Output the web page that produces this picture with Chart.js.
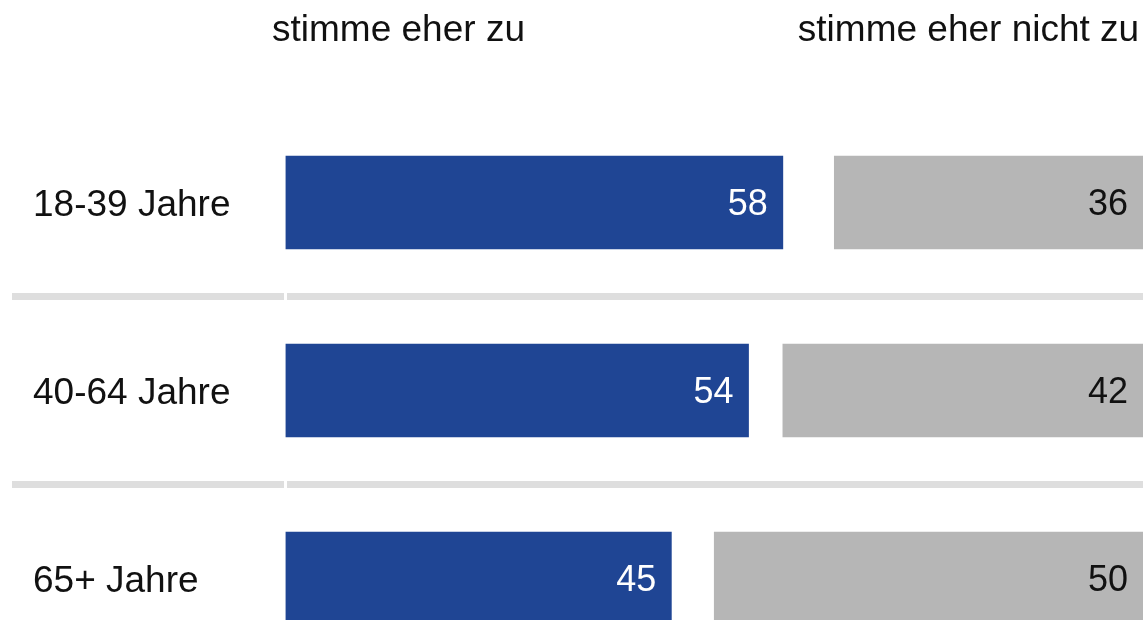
<!DOCTYPE html>
<html>
<head>
<meta charset="utf-8">
<script src="https://cdn.jsdelivr.net/npm/chart.js@4/dist/chart.umd.min.js"></script>
<style>
    html, body { margin: 0; padding: 0; background: #fff; overflow: hidden; }
    #wrap { width: 1143px; height: 620px; overflow: hidden; }
</style>
</head>
<body>
<div id="wrap"><canvas id="chart" width="1143" height="703"></canvas></div>
<script>
// Altersgruppen und Werte (in Prozent)
const groups = ['18-39 Jahre', '40-64 Jahre', '65+ Jahre'];
const agree = [58, 54, 45];
const disagree = [36, 42, 50];
const headers = ['stimme eher zu', 'stimme eher nicht zu'];

const blue = '#1f4594';
const grey = '#b6b6b6';
const lineGrey = '#dedede';
const fontFamily = '"Liberation Sans", Arial, sans-serif';

// Zahlen in die Balken schreiben
const valueLabels = {
    id: 'valueLabels',
    afterDatasetsDraw(chart) {
        const ctx = chart.ctx;
        ctx.save();
        ctx.font = '36px ' + fontFamily;
        ctx.textAlign = 'right';
        ctx.textBaseline = 'middle';
        chart.data.datasets.forEach((ds, i) => {
            const meta = chart.getDatasetMeta(i);
            const values = i === 0 ? agree : disagree;
            ctx.fillStyle = i === 0 ? '#ffffff' : '#111111';
            meta.data.forEach((bar, j) => {
                ctx.fillText(String(values[j]), bar.x - 15, bar.y + 3);
            });
        });
        ctx.restore();
    }
};

// Überschriften über den Spalten
const columnHeaders = {
    id: 'columnHeaders',
    afterDraw(chart) {
        const ctx = chart.ctx;
        ctx.save();
        ctx.font = '37px ' + fontFamily;
        ctx.fillStyle = '#111111';
        ctx.textAlign = 'center';
        ctx.textBaseline = 'alphabetic';
        ctx.fillText(headers[0], 398.5, 41);
        ctx.fillText(headers[1], 968.5, 41);
        ctx.restore();
    }
};

const ctx = document.getElementById('chart').getContext('2d');
new Chart(ctx, {
    type: 'bar',
    data: {
        labels: groups,
        datasets: [
            {
                label: headers[0],
                data: agree.map(v => [0, v]),
                backgroundColor: blue,
                borderWidth: 0,
                barThickness: 93,
                grouped: false
            },
            {
                label: headers[1],
                data: disagree.map(v => [100 - v, 100]),
                backgroundColor: grey,
                borderWidth: 0,
                barThickness: 93,
                grouped: false
            }
        ]
    },
    options: {
        indexAxis: 'y',
        responsive: false,
        animation: false,
        layout: {
            padding: { left: 33, top: 108.5, right: 0, bottom: 30.5 }
        },
        plugins: {
            legend: { display: false },
            tooltip: { enabled: false }
        },
        scales: {
            x: {
                display: false,
                min: 0,
                max: 100
            },
            y: {
                grid: {
                    offset: true,
                    color: c => (c.index === 0 ? 'rgba(0,0,0,0)' : lineGrey),
                    lineWidth: 7,
                    tickLength: 273.5
                },
                border: {
                    display: true,
                    width: 3,
                    color: 'rgba(0,0,0,0)'
                },
                ticks: {
                    crossAlign: 'far',
                    labelOffset: 3,
                    color: '#111111',
                    font: { family: fontFamily, size: 37 }
                },
                afterFit(scale) {
                    scale.width = 252.5;
                }
            }
        }
    },
    plugins: [valueLabels, columnHeaders]
});
</script>
</body>
</html>
